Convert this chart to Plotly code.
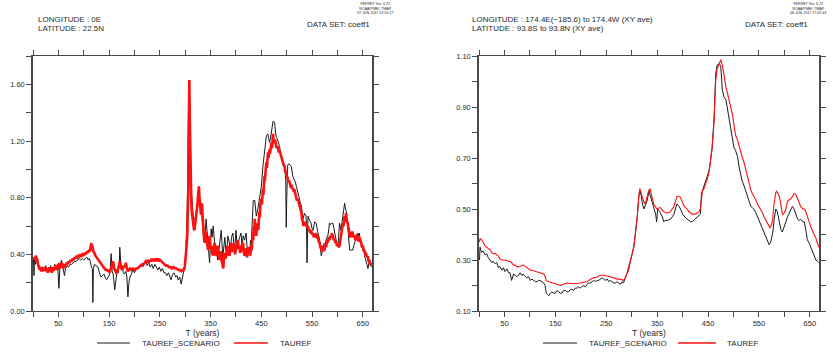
import plotly.graph_objects as go

# ---------------------------------------------------------------------------
# Series values (year, value)
# ---------------------------------------------------------------------------
# Panel 1: LONGITUDE 0E, LATITUDE 22.5N
LEFT_SCENARIO = [
    (1, 0.36), (2, 0.25), (3, 0.37), (5, 0.33), (7, 0.37), (9, 0.32), (11, 0.30), (13, 0.31),
    (15, 0.29), (17, 0.31), (19, 0.28), (21, 0.31), (23, 0.29), (25, 0.32), (27, 0.30), (29, 0.28),
    (31, 0.31), (33, 0.30), (35, 0.32), (37, 0.29), (39, 0.31), (41, 0.29), (43, 0.33), (45, 0.30),
    (47, 0.31), (49, 0.30), (51, 0.16), (53, 0.30), (56, 0.36), (58, 0.33), (60, 0.28), (62, 0.25),
    (64, 0.30), (67, 0.32), (70, 0.31), (73, 0.33), (76, 0.33), (79, 0.34), (82, 0.35), (85, 0.35),
    (88, 0.36), (91, 0.37), (94, 0.36), (97, 0.37), (100, 0.36), (103, 0.37), (106, 0.38), (109, 0.36),
    (111, 0.37), (113, 0.35), (115, 0.31), (117, 0.30), (118, 0.06), (119, 0.30), (121, 0.33), (124, 0.32),
    (128, 0.31), (131, 0.27), (134, 0.24), (137, 0.25), (140, 0.26), (143, 0.23), (145, 0.22), (148, 0.24),
    (150, 0.25), (152, 0.28), (154, 0.405), (156, 0.28), (158, 0.26), (161, 0.15), (163, 0.22), (166, 0.29),
    (168, 0.27), (170, 0.33), (171, 0.45), (173, 0.34), (176, 0.31), (178, 0.27), (180, 0.26), (183, 0.28),
    (185, 0.24), (187, 0.10), (189, 0.20), (191, 0.24), (194, 0.26), (197, 0.29), (200, 0.27), (204, 0.30),
    (207, 0.31), (210, 0.32), (213, 0.33), (216, 0.31), (219, 0.33), (222, 0.35), (225, 0.32), (228, 0.34),
    (231, 0.31), (234, 0.33), (237, 0.30), (240, 0.33), (243, 0.31), (246, 0.29), (249, 0.31), (252, 0.28),
    (255, 0.30), (258, 0.27), (261, 0.27), (264, 0.25), (267, 0.27), (270, 0.24), (272, 0.22), (275, 0.26),
    (278, 0.27), (281, 0.24), (284, 0.25), (286, 0.22), (289, 0.24), (292, 0.19), (295, 0.25), (297, 0.28),
    (299, 0.32), (301, 0.40), (302, 0.48), (303, 0.60), (304, 0.72), (305, 1.00), (306, 1.30), (307, 1.61),
    (308, 1.45), (309, 1.33), (310, 1.05), (311, 0.90), (313, 0.76), (316, 0.65), (318, 0.65), (320, 0.66),
    (322, 0.69), (325, 0.76), (328, 0.81), (330, 0.78), (332, 0.72), (335, 0.57), (338, 0.48), (341, 0.65),
    (343, 0.55), (345, 0.43), (348, 0.34), (351, 0.58), (353, 0.52), (355, 0.60), (358, 0.48), (361, 0.43),
    (364, 0.36), (366, 0.42), (368, 0.48), (371, 0.57), (374, 0.38), (376, 0.45), (378, 0.52), (381, 0.38),
    (384, 0.53), (387, 0.48), (389, 0.40), (391, 0.52), (394, 0.55), (397, 0.41), (400, 0.57), (402, 0.47),
    (404, 0.48), (407, 0.52), (410, 0.55), (412, 0.45), (414, 0.53), (417, 0.50), (420, 0.55), (423, 0.38),
    (425, 0.44), (427, 0.43), (429, 0.50), (430, 0.48), (431, 0.57), (433, 0.70), (434, 0.78), (437, 0.78),
    (439, 0.69), (440, 0.67), (443, 0.72), (447, 0.83), (450, 0.88), (453, 1.02), (456, 1.12), (458, 1.22),
    (460, 1.24), (463, 1.25), (466, 1.19), (468, 1.22), (470, 1.26), (473, 1.34), (476, 1.33), (479, 1.23),
    (481, 1.22), (483, 1.19), (486, 1.16), (489, 1.09), (492, 1.05), (494, 1.03), (496, 1.01), (498, 0.93),
    (499, 0.59), (500, 0.80), (501, 0.97), (502, 1.03), (504, 1.04), (506, 1.03), (509, 1.02), (512, 0.95),
    (515, 0.93), (517, 0.91), (519, 0.88), (522, 0.83), (525, 0.79), (527, 0.76), (529, 0.74), (532, 0.65),
    (535, 0.69), (538, 0.67), (539, 0.60), (540, 0.34), (541, 0.55), (542, 0.67), (545, 0.64), (548, 0.62),
    (550, 0.58), (552, 0.57), (555, 0.63), (558, 0.62), (561, 0.56), (563, 0.52), (565, 0.50), (567, 0.42),
    (568, 0.39), (570, 0.42), (571, 0.45), (574, 0.48), (576, 0.47), (578, 0.51), (581, 0.53), (583, 0.58),
    (584, 0.62), (586, 0.61), (588, 0.62), (591, 0.62), (593, 0.58), (594, 0.55), (597, 0.48), (599, 0.47),
    (601, 0.46), (603, 0.55), (604, 0.62), (606, 0.59), (607, 0.57), (609, 0.63), (611, 0.69), (613, 0.73),
    (614, 0.76), (616, 0.72), (617, 0.71), (619, 0.65), (620, 0.59), (622, 0.48), (624, 0.43), (627, 0.43),
    (630, 0.43), (632, 0.46), (634, 0.48), (637, 0.52), (640, 0.55), (642, 0.53), (643, 0.55), (645, 0.50),
    (647, 0.48), (650, 0.43), (653, 0.41), (654, 0.38), (656, 0.36), (658, 0.33), (660, 0.30), (662, 0.33),
    (663, 0.36), (665, 0.32), (667, 0.31),
]

LEFT_REF = [
    (1, 0.36), (2, 0.38), (3, 0.36), (4, 0.38), (6, 0.39), (7, 0.36), (8, 0.37), (10, 0.33),
    (11, 0.31), (12, 0.32), (13, 0.29), (14, 0.31), (16, 0.28), (17, 0.31), (18, 0.29), (20, 0.31),
    (21, 0.28), (22, 0.30), (24, 0.29), (25, 0.31), (26, 0.28), (28, 0.30), (29, 0.27), (30, 0.30),
    (32, 0.28), (33, 0.31), (34, 0.29), (36, 0.30), (37, 0.27), (38, 0.30), (40, 0.28), (41, 0.31),
    (42, 0.29), (44, 0.32), (45, 0.29), (46, 0.31), (48, 0.30), (49, 0.33), (50, 0.29), (52, 0.34),
    (53, 0.30), (54, 0.33), (56, 0.31), (57, 0.34), (58, 0.32), (60, 0.30), (61, 0.33), (62, 0.31),
    (64, 0.32), (66, 0.34), (68, 0.33), (70, 0.35), (72, 0.34), (74, 0.36), (76, 0.35), (78, 0.37),
    (80, 0.36), (82, 0.38), (84, 0.37), (86, 0.39), (88, 0.38), (90, 0.39), (92, 0.38), (94, 0.40),
    (96, 0.39), (98, 0.40), (100, 0.39), (102, 0.41), (104, 0.40), (106, 0.42), (108, 0.41), (110, 0.43),
    (112, 0.42), (113, 0.45), (115, 0.48), (116, 0.44), (117, 0.46), (119, 0.42), (121, 0.41), (123, 0.39),
    (125, 0.38), (128, 0.36), (131, 0.35), (134, 0.33), (137, 0.32), (140, 0.30), (143, 0.29), (146, 0.29),
    (149, 0.28), (152, 0.28), (154, 0.30), (156, 0.33), (158, 0.35), (160, 0.30), (162, 0.28), (164, 0.27),
    (166, 0.28), (168, 0.30), (170, 0.33), (171, 0.35), (173, 0.31), (175, 0.29), (177, 0.30), (179, 0.32),
    (181, 0.31), (183, 0.34), (185, 0.30), (187, 0.28), (189, 0.29), (191, 0.30), (194, 0.29), (197, 0.30),
    (200, 0.29), (203, 0.30), (206, 0.30), (209, 0.31), (212, 0.32), (215, 0.33), (218, 0.33), (220, 0.34),
    (222, 0.35), (224, 0.34), (226, 0.36), (228, 0.34), (230, 0.36), (232, 0.35), (234, 0.37), (236, 0.35),
    (238, 0.37), (240, 0.35), (242, 0.37), (244, 0.36), (246, 0.37), (248, 0.35), (250, 0.36), (253, 0.35),
    (256, 0.34), (259, 0.33), (262, 0.32), (265, 0.32), (268, 0.31), (271, 0.31), (274, 0.30), (277, 0.31),
    (280, 0.30), (283, 0.30), (286, 0.29), (289, 0.29), (292, 0.28), (295, 0.29), (297, 0.29), (299, 0.31),
    (301, 0.37), (302, 0.43), (303, 0.48), (304, 0.53), (305, 0.70), (306, 0.86), (307, 1.30), (308, 1.63),
    (309, 1.35), (310, 1.09), (311, 0.90), (312, 0.76), (313, 0.70), (315, 0.62), (317, 0.58), (318, 0.57),
    (320, 0.62), (322, 0.67), (324, 0.75), (325, 0.81), (327, 0.88), (328, 0.80), (330, 0.74), (331, 0.68),
    (333, 0.76), (334, 0.66), (335, 0.62), (337, 0.52), (338, 0.48), (340, 0.56), (341, 0.53), (343, 0.47),
    (345, 0.43), (347, 0.50), (348, 0.53), (350, 0.44), (351, 0.46), (353, 0.41), (355, 0.39), (356, 0.45),
    (358, 0.48), (360, 0.40), (361, 0.39), (363, 0.45), (364, 0.46), (366, 0.40), (368, 0.36), (369, 0.42),
    (371, 0.41), (372, 0.35), (374, 0.32), (375, 0.30), (376, 0.36), (378, 0.41), (379, 0.37), (381, 0.39),
    (382, 0.44), (384, 0.46), (385, 0.41), (387, 0.39), (389, 0.44), (391, 0.48), (392, 0.42), (394, 0.43),
    (395, 0.47), (397, 0.46), (398, 0.40), (400, 0.43), (402, 0.47), (404, 0.50), (405, 0.44), (407, 0.46),
    (408, 0.41), (410, 0.43), (412, 0.47), (414, 0.48), (415, 0.42), (417, 0.39), (418, 0.44), (420, 0.43),
    (421, 0.38), (423, 0.41), (424, 0.45), (427, 0.43), (428, 0.39), (430, 0.46), (431, 0.43), (433, 0.55),
    (434, 0.50), (435, 0.60), (436, 0.55), (437, 0.65), (438, 0.58), (440, 0.53), (441, 0.58), (443, 0.62),
    (444, 0.57), (446, 0.70), (447, 0.66), (448, 0.75), (450, 0.79), (451, 0.75), (453, 0.86), (454, 0.82),
    (456, 0.95), (457, 0.92), (459, 1.02), (460, 1.05), (461, 1.01), (463, 1.12), (464, 1.08), (466, 1.14),
    (467, 1.11), (469, 1.17), (470, 1.19), (471, 1.15), (473, 1.25), (474, 1.20), (476, 1.19), (477, 1.21),
    (479, 1.18), (480, 1.15), (483, 1.16), (484, 1.12), (486, 1.13), (488, 1.10), (489, 1.09), (491, 1.06),
    (492, 1.05), (494, 1.03), (496, 1.02), (497, 0.98), (499, 0.99), (500, 0.95), (502, 0.94), (503, 0.91),
    (505, 0.92), (506, 0.90), (508, 0.87), (509, 0.89), (511, 0.86), (512, 0.87), (514, 0.84), (515, 0.86),
    (517, 0.82), (519, 0.81), (520, 0.78), (522, 0.79), (524, 0.76), (525, 0.75), (527, 0.72), (529, 0.69),
    (530, 0.65), (532, 0.63), (533, 0.60), (535, 0.63), (537, 0.60), (538, 0.62), (540, 0.59), (542, 0.60),
    (543, 0.57), (545, 0.57), (547, 0.55), (548, 0.57), (550, 0.54), (552, 0.55), (553, 0.52), (555, 0.54),
    (557, 0.52), (558, 0.55), (560, 0.51), (561, 0.53), (563, 0.49), (565, 0.48), (566, 0.45), (568, 0.45),
    (569, 0.42), (571, 0.46), (572, 0.43), (574, 0.43), (576, 0.46), (578, 0.46), (579, 0.49), (581, 0.49),
    (583, 0.52), (584, 0.50), (586, 0.53), (588, 0.52), (589, 0.55), (591, 0.52), (593, 0.50), (594, 0.51),
    (596, 0.48), (597, 0.49), (599, 0.46), (601, 0.47), (602, 0.45), (604, 0.46), (605, 0.50), (607, 0.53),
    (609, 0.58), (611, 0.62), (612, 0.60), (614, 0.67), (615, 0.63), (617, 0.69), (618, 0.64), (620, 0.62),
    (622, 0.58), (624, 0.55), (625, 0.52), (627, 0.53), (629, 0.56), (630, 0.55), (632, 0.52), (634, 0.53),
    (635, 0.50), (637, 0.51), (638, 0.54), (640, 0.52), (642, 0.49), (643, 0.52), (645, 0.50), (647, 0.48),
    (648, 0.45), (650, 0.46), (652, 0.42), (653, 0.43), (655, 0.40), (656, 0.41), (658, 0.38), (660, 0.39),
    (661, 0.35), (663, 0.36), (664, 0.33), (666, 0.34), (667, 0.32),
]

# Panel 2: global (XY) average
RIGHT_SCENARIO = [
    (1, 0.30), (2, 0.35), (5, 0.33), (8, 0.335), (12, 0.32), (15, 0.325), (18, 0.31), (22, 0.30),
    (25, 0.29), (28, 0.295), (32, 0.285), (35, 0.29), (38, 0.27), (41, 0.275), (45, 0.26), (48, 0.27),
    (51, 0.255), (55, 0.265), (58, 0.25), (61, 0.25), (64, 0.22), (68, 0.245), (71, 0.24), (74, 0.235),
    (78, 0.24), (81, 0.25), (84, 0.24), (87, 0.245), (91, 0.235), (94, 0.23), (97, 0.235), (101, 0.22),
    (104, 0.225), (107, 0.22), (111, 0.215), (114, 0.215), (117, 0.22), (120, 0.22), (124, 0.215),
    (127, 0.21), (130, 0.20), (132, 0.17), (135, 0.165), (137, 0.16), (140, 0.17), (143, 0.175),
    (147, 0.17), (150, 0.17), (153, 0.18), (156, 0.175), (160, 0.17), (163, 0.17), (166, 0.18),
    (170, 0.18), (173, 0.175), (176, 0.175), (180, 0.185), (183, 0.185), (186, 0.18), (189, 0.19),
    (193, 0.19), (196, 0.195), (199, 0.19), (202, 0.195), (206, 0.20), (209, 0.195), (212, 0.205),
    (215, 0.21), (219, 0.21), (222, 0.215), (225, 0.22), (229, 0.215), (232, 0.22), (235, 0.22),
    (238, 0.225), (242, 0.23), (245, 0.225), (248, 0.22), (252, 0.225), (255, 0.215), (258, 0.22),
    (261, 0.215), (265, 0.21), (268, 0.21), (271, 0.215), (274, 0.21), (278, 0.205), (281, 0.215),
    (284, 0.21), (288, 0.235), (291, 0.245), (294, 0.26), (298, 0.30), (301, 0.33), (304, 0.35),
    (307, 0.40), (311, 0.47), (314, 0.55), (316, 0.575), (319, 0.55), (321, 0.52), (324, 0.50),
    (327, 0.52), (330, 0.53), (334, 0.57), (337, 0.55), (340, 0.52), (343, 0.50), (347, 0.48),
    (349, 0.45), (351, 0.50), (355, 0.49), (360, 0.47), (363, 0.45), (366, 0.455), (370, 0.455),
    (376, 0.46), (380, 0.47), (383, 0.48), (386, 0.50), (389, 0.52), (393, 0.51), (396, 0.50),
    (400, 0.48), (403, 0.47), (406, 0.465), (409, 0.46), (413, 0.455), (416, 0.45), (419, 0.45),
    (422, 0.455), (426, 0.465), (429, 0.47), (432, 0.475), (435, 0.48), (437, 0.56), (442, 0.59),
    (445, 0.60), (449, 0.625), (452, 0.65), (455, 0.69), (458, 0.74), (460, 0.80), (462, 0.86),
    (465, 1.03), (468, 1.065), (472, 1.07), (475, 1.06), (478, 0.97), (481, 0.94), (485, 0.93),
    (488, 0.895), (491, 0.85), (494, 0.81), (498, 0.77), (501, 0.74), (504, 0.73), (508, 0.705),
    (511, 0.665), (514, 0.64), (517, 0.61), (521, 0.59), (524, 0.57), (527, 0.55), (531, 0.52),
    (534, 0.51), (537, 0.505), (540, 0.50), (544, 0.485), (547, 0.47), (550, 0.455), (554, 0.44),
    (557, 0.425), (560, 0.41), (564, 0.39), (567, 0.37), (570, 0.36), (573, 0.37), (577, 0.405),
    (580, 0.46), (583, 0.50), (586, 0.49), (590, 0.44), (593, 0.42), (596, 0.41), (600, 0.43),
    (603, 0.45), (606, 0.47), (609, 0.48), (613, 0.50), (616, 0.51), (619, 0.50), (622, 0.48),
    (626, 0.46), (629, 0.455), (632, 0.46), (636, 0.45), (639, 0.45), (642, 0.42), (645, 0.38),
    (649, 0.365), (652, 0.35), (655, 0.335), (659, 0.32), (662, 0.30), (665, 0.295), (667, 0.29),
]

RIGHT_REF = [
    (1, 0.37), (2, 0.385), (5, 0.38), (9, 0.365), (12, 0.355), (15, 0.35), (19, 0.345), (22, 0.34),
    (25, 0.33), (28, 0.325), (32, 0.325), (35, 0.32), (38, 0.315), (41, 0.305), (45, 0.30), (48, 0.30),
    (51, 0.30), (55, 0.298), (58, 0.295), (61, 0.295), (64, 0.29), (68, 0.28), (71, 0.28), (74, 0.275),
    (78, 0.273), (81, 0.275), (84, 0.28), (87, 0.28), (91, 0.275), (94, 0.27), (97, 0.265), (101, 0.26),
    (104, 0.26), (107, 0.258), (111, 0.257), (114, 0.255), (117, 0.253), (120, 0.25), (124, 0.248),
    (127, 0.245), (130, 0.235), (132, 0.22), (137, 0.215), (142, 0.212), (147, 0.21), (153, 0.205),
    (160, 0.20), (166, 0.205), (173, 0.21), (180, 0.208), (186, 0.207), (193, 0.208), (199, 0.21),
    (206, 0.212), (212, 0.215), (216, 0.22), (219, 0.225), (225, 0.23), (232, 0.233), (238, 0.24),
    (245, 0.24), (252, 0.237), (258, 0.235), (265, 0.23), (271, 0.225), (278, 0.225), (284, 0.22),
    (288, 0.23), (291, 0.25), (294, 0.27), (298, 0.30), (301, 0.325), (304, 0.35), (307, 0.40),
    (311, 0.47), (314, 0.55), (316, 0.58), (319, 0.56), (322, 0.535), (325, 0.52), (328, 0.53),
    (330, 0.55), (333, 0.57), (336, 0.58), (339, 0.555), (343, 0.52), (346, 0.51), (350, 0.50),
    (354, 0.505), (357, 0.505), (360, 0.495), (363, 0.49), (366, 0.485), (370, 0.485), (373, 0.485),
    (376, 0.49), (380, 0.50), (383, 0.51), (386, 0.53), (389, 0.55), (393, 0.55), (396, 0.545),
    (399, 0.53), (402, 0.515), (406, 0.505), (409, 0.50), (412, 0.49), (416, 0.485), (419, 0.48),
    (422, 0.48), (426, 0.48), (429, 0.485), (432, 0.49), (435, 0.50), (437, 0.53), (439, 0.57),
    (442, 0.58), (445, 0.595), (449, 0.62), (452, 0.645), (455, 0.69), (458, 0.74), (460, 0.79),
    (462, 0.85), (465, 1.005), (468, 1.05), (472, 1.07), (475, 1.085), (478, 1.065), (481, 1.02),
    (485, 0.98), (488, 0.955), (491, 0.93), (494, 0.90), (498, 0.87), (501, 0.83), (504, 0.79),
    (508, 0.77), (511, 0.745), (514, 0.73), (517, 0.705), (521, 0.68), (524, 0.655), (527, 0.63),
    (531, 0.60), (534, 0.575), (537, 0.56), (540, 0.55), (544, 0.535), (547, 0.52), (550, 0.51),
    (554, 0.50), (557, 0.485), (560, 0.47), (564, 0.455), (567, 0.44), (570, 0.43), (572, 0.425),
    (575, 0.44), (577, 0.46), (579, 0.51), (581, 0.55), (583, 0.565), (585, 0.57), (588, 0.56),
    (590, 0.55), (593, 0.52), (596, 0.48), (598, 0.48), (600, 0.485), (603, 0.50), (606, 0.53),
    (609, 0.535), (613, 0.54), (616, 0.55), (619, 0.56), (621, 0.56), (623, 0.555), (626, 0.54),
    (629, 0.52), (632, 0.51), (636, 0.50), (639, 0.50), (642, 0.49), (645, 0.47), (649, 0.45),
    (652, 0.43), (655, 0.415), (659, 0.40), (662, 0.385), (665, 0.365), (668, 0.35),
]

SERIES_NAMES = ["TAUREF_SCENARIO", "TAUREF"]
LINE_COLORS = ["#1a1a1a", "#ff1010"]

LEFT_HEADER = ["LONGITUDE : 0E", "LATITUDE : 22.5N"]
RIGHT_HEADER = ["LONGITUDE : 174.4E(\u2212185.6) to 174.4W (XY ave)",
                "LATITUDE : 93.8S to 93.8N (XY ave)"]
DATASET_LABEL = "DATA SET: coeff1"
STAMP_LEFT = ["FERRET Ver. 6.72", "NOAA/PMEL TMAP", "07-JUN-2017 13:50:17"]
STAMP_RIGHT = ["FERRET Ver. 6.72", "NOAA/PMEL TMAP", "08-JUN-2017 17:05:43"]

X_TITLE = "T (years)"
X_RANGE = [0, 668]
LEFT_Y_RANGE = [0.0, 1.8]
RIGHT_Y_RANGE = [0.1, 1.1]

# ---------------------------------------------------------------------------
W, H = 833, 354
FONT = "Liberation Sans, Arial, sans-serif"
TXT = "#2a2a2a"
AXC = "#4a4a4a"


def px_x(p):
    return p / W


def px_y(p):
    return 1 - p / H


def split(pairs):
    return [p[0] for p in pairs], [p[1] for p in pairs]


fig = go.Figure()

panels = [
    ("x", "y", LEFT_SCENARIO, LEFT_REF, 2.6),
    ("x2", "y2", RIGHT_SCENARIO, RIGHT_REF, 1.1),
]
for xa, ya, scen, ref, ref_w in panels:
    for name, pairs, color, width in [
        (SERIES_NAMES[0], scen, LINE_COLORS[0], 1.0),
        (SERIES_NAMES[1], ref, LINE_COLORS[1], ref_w),
    ]:
        xs, ys = split(pairs)
        fig.add_trace(go.Scatter(
            x=xs, y=ys, mode="lines", name=name,
            line=dict(color=color, width=width),
            xaxis=xa, yaxis=ya, showlegend=False,
        ))

# plot-area pixel boxes (left, right, top, bottom)
LEFT_BOX = (33, 372, 56, 311)
RIGHT_BOX = (479, 819, 56, 311)


def xaxis_cfg(box, anchor):
    return dict(
        domain=[px_x(box[0]), px_x(box[1])], anchor=anchor, range=X_RANGE,
        tick0=50, dtick=100, tickmode="linear", automargin=False,
        ticks="outside", ticklen=5, tickwidth=1, tickcolor=AXC,
        minor=dict(dtick=50, tick0=0, ticks="outside", ticklen=5, tickwidth=1, tickcolor=AXC),
        showline=True, linecolor=AXC, linewidth=1, mirror="allticks",
        showgrid=False, zeroline=False,
        tickfont=dict(family=FONT, size=7.5, color=TXT),
        title=dict(text=X_TITLE, font=dict(family=FONT, size=8.5, color=TXT), standoff=3),
    )


def yaxis_cfg(box, anchor, yr, t0, dt, mdt):
    return dict(
        domain=[px_y(box[3]), px_y(box[2])], anchor=anchor, range=yr,
        tick0=t0, dtick=dt, tickmode="linear", tickformat=".2f", automargin=False,
        ticks="outside", ticklen=5, tickwidth=1, tickcolor=AXC,
        minor=dict(dtick=mdt, tick0=t0, ticks="outside", ticklen=5, tickwidth=1, tickcolor=AXC),
        showline=True, linecolor=AXC, linewidth=1.5, mirror="allticks",
        showgrid=False, zeroline=False,
        tickfont=dict(family=FONT, size=7.5, color=TXT),
    )


fig.update_layout(
    width=W, height=H, autosize=False,
    margin=dict(l=0, r=0, t=0, b=0, pad=0),
    paper_bgcolor="white", plot_bgcolor="white",
    showlegend=False,
    xaxis=xaxis_cfg(LEFT_BOX, "y"),
    yaxis=yaxis_cfg(LEFT_BOX, "x", LEFT_Y_RANGE, 0.0, 0.4, 0.2),
    xaxis2=xaxis_cfg(RIGHT_BOX, "y2"),
    yaxis2=yaxis_cfg(RIGHT_BOX, "x2", RIGHT_Y_RANGE, 0.1, 0.2, 0.1),
)

annotations = []
shapes = []

# header lines
for lines, x0 in [(LEFT_HEADER, 36), (RIGHT_HEADER, 470)]:
    for i, t in enumerate(lines):
        annotations.append(dict(
            text=t, x=px_x(x0), y=px_y(19 + 10 * i), xref="paper", yref="paper",
            xanchor="left", yanchor="middle", showarrow=False,
            font=dict(family=FONT, size=8, color=TXT),
        ))
for xr in [372, 810]:
    annotations.append(dict(
        text=DATASET_LABEL, x=px_x(xr), y=px_y(25), xref="paper", yref="paper",
        xanchor="right", yanchor="middle", showarrow=False,
        font=dict(family=FONT, size=8, color=TXT),
    ))

# program stamp (three lines in one block)
for lines, xc in [(STAMP_LEFT, 375), (STAMP_RIGHT, 808)]:
    annotations.append(dict(
        text="<br>".join(lines), x=px_x(xc), y=px_y(0.5), xref="paper", yref="paper",
        xanchor="center", yanchor="top", showarrow=False, align="center",
        font=dict(family=FONT, size=3.6, color=TXT),
    ))

# legend keys under each panel: (line start, line end, text start)
LEGEND_KEYS = [
    [(97, 130, 140), (234, 268, 278)],
    [(543, 577, 587), (678, 716, 725)],
]
LEGEND_Y = 343
for keys in LEGEND_KEYS:
    for (x0, x1, xt), name, color, width in zip(keys, SERIES_NAMES, LINE_COLORS, [1.0, 1.3]):
        shapes.append(dict(
            type="line", xref="paper", yref="paper",
            x0=px_x(x0), x1=px_x(x1), y0=px_y(LEGEND_Y), y1=px_y(LEGEND_Y),
            line=dict(color=color, width=width),
        ))
        annotations.append(dict(
            text=name, x=px_x(xt), y=px_y(LEGEND_Y), xref="paper", yref="paper",
            xanchor="left", yanchor="middle", showarrow=False,
            font=dict(family=FONT, size=8, color=TXT),
        ))

fig.update_layout(annotations=annotations, shapes=shapes)

fig.write_html("out.html")
